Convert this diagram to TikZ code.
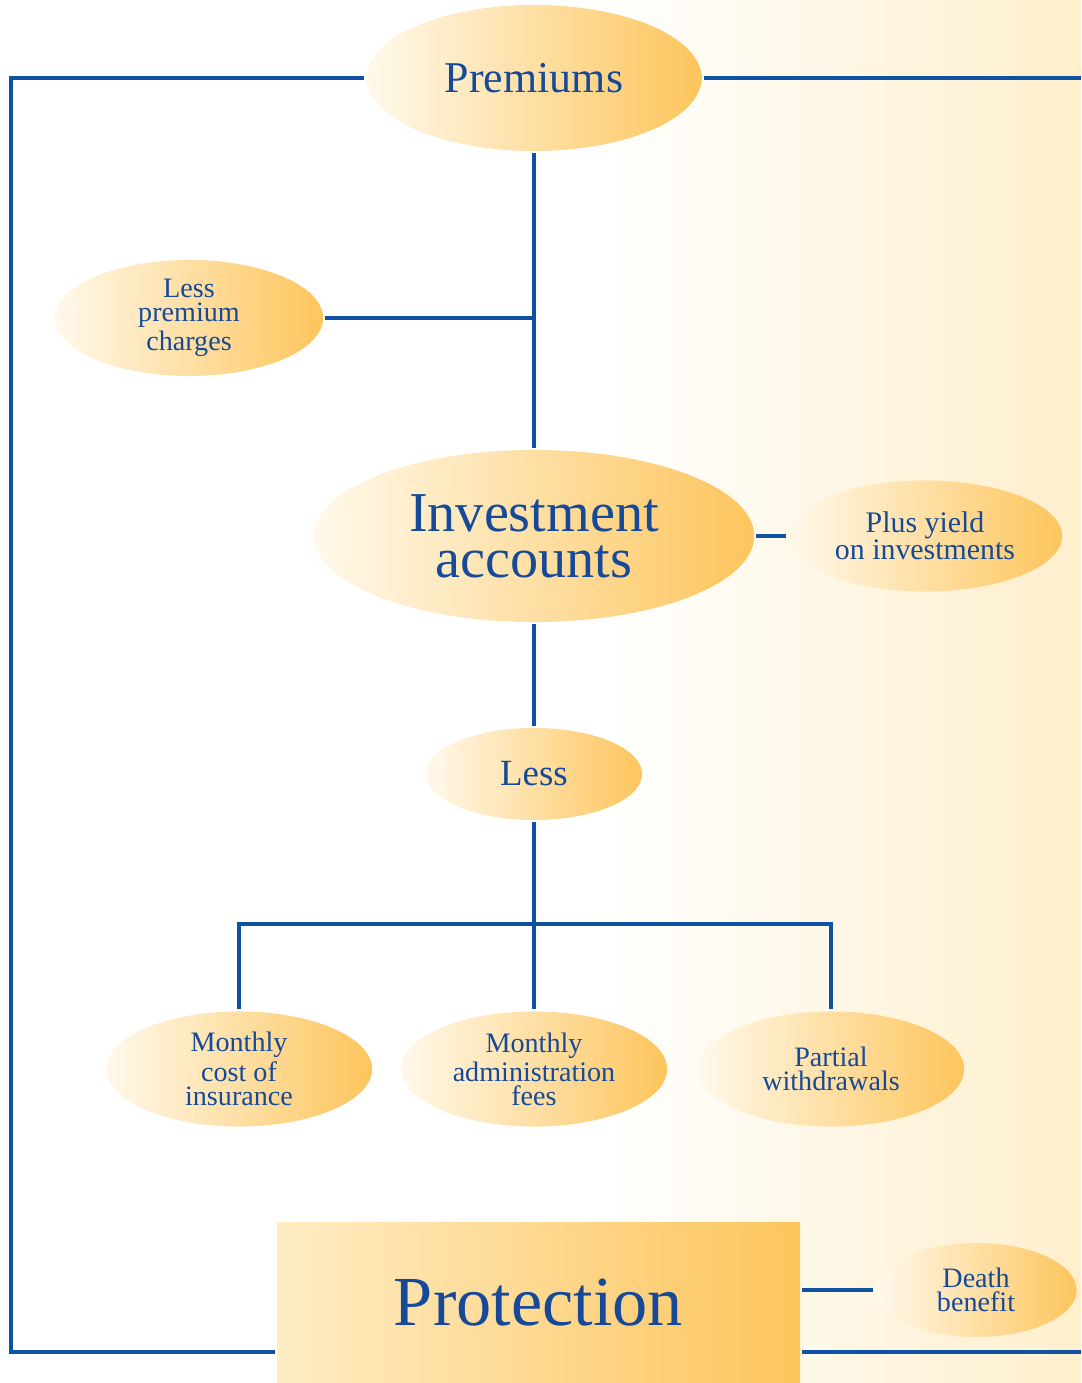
\documentclass[tikz,border=0pt]{standalone}
\usepackage{fontspec}
\setmainfont{Liberation Serif}
\usetikzlibrary{shapes.geometric}
\definecolor{lineblue}{RGB}{16,82,162}
\definecolor{textblue}{RGB}{22,74,152}
\definecolor{palecream}{RGB}{255,249,236}
\definecolor{gold}{RGB}{253,197,92}
\definecolor{bgcream}{RGB}{254,239,204}
\definecolor{boxcream}{RGB}{255,236,196}
\begin{document}
\begin{tikzpicture}[x=0.01cm,y=-0.01cm,line width=1.2pt,
    blob/.style={ellipse,inner sep=0pt,left color=palecream,right color=gold,text=textblue,align=center},
    box/.style={rectangle,inner sep=0pt,left color=boxcream,right color=gold,text=textblue},
    link/.style={draw=lineblue}]
                \useasboundingbox (0,0) rectangle (1081,1383);
                \shade[left color=white,right color=bgcream] (600,0) rectangle (1081,1383);

                \node[blob,minimum width=3.35cm,minimum height=1.46cm,font=\fontsize{12.5}{12}\selectfont] at (534,78) (prem) {Premiums};
                \node[blob,minimum width=2.68cm,minimum height=1.16cm,font=\fontsize{8}{6.8}\selectfont] at (189,318) (charges) {Less\\premium\\charges};
                \node[blob,minimum width=4.40cm,minimum height=1.72cm,font=\fontsize{16}{13}\selectfont] at (534,536) (inv) {Investment\\accounts};
                \node[blob,minimum width=2.74cm,minimum height=1.11cm,font=\fontsize{8.5}{7.8}\selectfont] at (925,536) (plus) {Plus yield\\on investments};
                \node[blob,minimum width=2.16cm,minimum height=0.92cm,font=\fontsize{10.5}{10}\selectfont] at (534,774) (less) {Less};
                \node[blob,minimum width=2.66cm,minimum height=1.15cm,font=\fontsize{8}{6.8}\selectfont] at (239,1069) (cost) {Monthly\\cost of\\insurance};
                \node[blob,minimum width=2.66cm,minimum height=1.15cm,font=\fontsize{8}{6.8}\selectfont] at (534,1069) (admin) {Monthly\\administration\\fees};
                \node[blob,minimum width=2.66cm,minimum height=1.15cm,font=\fontsize{8}{6.8}\selectfont] at (831,1069) (part) {Partial\\withdrawals};
                \node[box,minimum width=5.23cm,minimum height=1.60cm,font=\fontsize{20}{20}\selectfont] at (538.5,1303) (prot) {Protection};
                \node[blob,minimum width=2.01cm,minimum height=0.94cm,font=\fontsize{8}{6.8}\selectfont] at (976,1290) (death) {Death\\benefit};

                \coordinate (frame tl) at (11,78);
                \coordinate (frame bl) at (11,1352);
                \coordinate (frame tr) at (1081,78);
                \coordinate (frame br) at (1081,1352);
                \coordinate (split) at (534,924);

                \path[link] (prem.west) -- (frame tl) -- (frame bl) -- (frame bl -| prot.west);
                \path[link] (prem.east) -- (frame tr);
                \path[link] (prot.east |- frame br) -- (frame br);
                \path[link] (prem.south) -- (inv.north);
                \path[link] (charges.east) -- (charges.east -| prem.south);
                \path[link] (inv.east) -- (plus.west);
                \path[link,line width=1.4pt] (inv.south) -- (less.north);
                \path[link] (less.south) -- (admin.north);
                \path[link] (cost.north) |- (split) -| (part.north);
                \path[link] (prot.east |- death.west) -- (death.west);

            \end{tikzpicture}
\end{document}
